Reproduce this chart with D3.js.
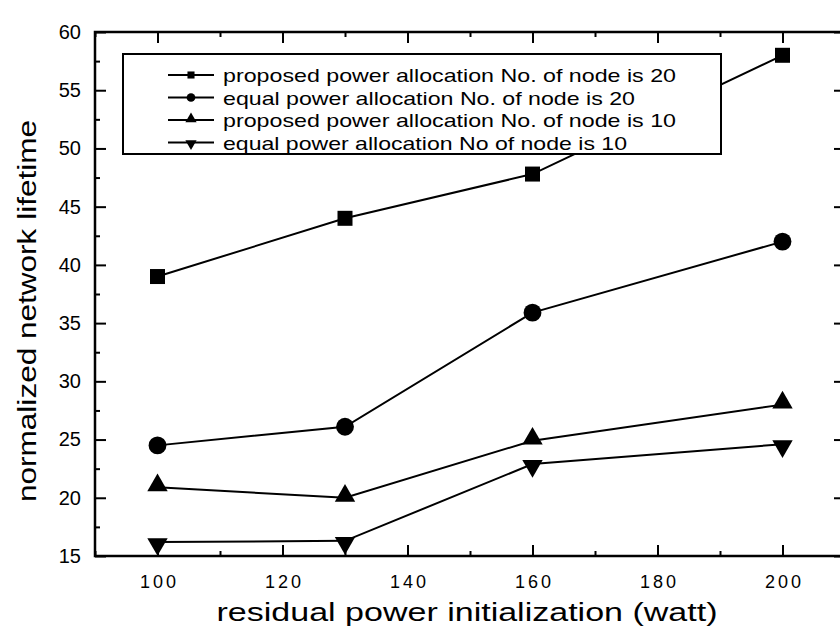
<!DOCTYPE html>
<html><head><meta charset="utf-8">
<script src="https://cdn.jsdelivr.net/npm/d3@7"></script>
<style>body{margin:0;background:#fff}svg{display:block}text{font-family:Arial,"Liberation Sans",sans-serif;fill:#000}</style>
</head><body><svg id="c" width="840" height="629"></svg>
<script>
const xValues = [100, 130, 160, 200];
const proposed20 = [39, 44, 47.8, 58];
const equal20 = [24.5, 26.1, 35.9, 42];
const proposed10 = [20.9, 20, 24.9, 28];
const equal10 = [16.2, 16.3, 22.9, 24.6];
const seriesNames = [
  "proposed power allocation No. of node is 20",
  "equal power allocation No. of node is 20",
  "proposed power allocation No. of node is 10",
  "equal power allocation No of node is 10"
];
const xTicks = [100, 120, 140, 160, 180, 200];
const yTicks = [15, 20, 25, 30, 35, 40, 45, 50, 55, 60];
const xTitle = "residual power initialization (watt)";
const yTitle = "normalized network lifetime";

const svg = d3.select("#c");
const L = 95, R = 845, T = 32, B = 556;
const x = d3.scaleLinear().domain([90, 210]).range([L, R]);
const y = d3.scaleLinear().domain([15, 60]).range([B, T]);

const series = [
  {v: proposed20, sym: d3.symbolSquare, size: 225, lsize: 50},
  {v: equal20, sym: d3.symbolCircle, size: 250, lsize: 60},
  {v: proposed10, sym: d3.symbolTriangle, size: 180, lsize: 55, dy: -2},
  {v: equal10, sym: d3.symbolTriangle, size: 180, lsize: 55, rot: 180, dy: 2}
];
const legendWidths = [453, 412, 453, 404];

// frame
svg.append("rect").attr("x", L).attr("y", T).attr("width", R - L).attr("height", B - T)
  .attr("fill", "none").attr("stroke", "#000").attr("stroke-width", 2.5);

const minorX = d3.range(90, 211, 10).filter(d => d % 20 !== 0);
const minorY = d3.range(17.5, 60, 5);

function ticks(g) { g.selectAll(".domain").remove(); g.selectAll("line").attr("stroke", "#000").attr("stroke-width", 2); }

svg.append("g").attr("transform", `translate(0,${B})`).call(d3.axisBottom(x).tickValues(xTicks).tickSize(-11).tickPadding(19).tickFormat(d3.format("d")))
  .call(ticks).selectAll("text").attr("font-size", 18).attr("font-family", "Arial")
  .attr("textLength", 36).attr("lengthAdjust", "spacing");
svg.append("g").attr("transform", `translate(0,${B})`).call(d3.axisBottom(x).tickValues(minorX).tickSize(-5).tickFormat(""))
  .call(ticks);
svg.append("g").attr("transform", `translate(0,${T})`).call(d3.axisTop(x).tickValues(xTicks).tickSize(-11).tickFormat(""))
  .call(ticks);
svg.append("g").attr("transform", `translate(0,${T})`).call(d3.axisTop(x).tickValues(minorX).tickSize(-5).tickFormat(""))
  .call(ticks);
svg.append("g").attr("transform", `translate(${L},0)`).call(d3.axisLeft(y).tickValues(yTicks).tickSize(-11).tickPadding(14).tickFormat(d3.format("d")))
  .call(ticks).selectAll("text").attr("font-size", 20).attr("font-family", "Arial");
svg.append("g").attr("transform", `translate(${L},0)`).call(d3.axisLeft(y).tickValues(minorY).tickSize(-5).tickFormat(""))
  .call(ticks);
svg.append("g").attr("transform", `translate(${R},0)`).call(d3.axisRight(y).tickValues(yTicks).tickSize(-11).tickFormat(""))
  .call(ticks);
svg.append("g").attr("transform", `translate(${R},0)`).call(d3.axisRight(y).tickValues(minorY).tickSize(-5).tickFormat(""))
  .call(ticks);

// lines and markers
const line = d3.line().x((d, i) => x(xValues[i])).y(d => y(d));
series.forEach(s => {
  svg.append("path").datum(s.v).attr("d", line).attr("fill", "none").attr("stroke", "#000").attr("stroke-width", 2);
  svg.selectAll(null).data(s.v).enter().append("path")
    .attr("d", d3.symbol().type(s.sym).size(s.size))
    .attr("transform", (d, i) => `translate(${x(xValues[i])},${y(d) + (s.dy || 0)}) rotate(${s.rot || 0})`)
    .attr("fill", "#000");
});

// legend
const lg = svg.append("g");
lg.append("rect").attr("x", 123).attr("y", 54).attr("width", 598).attr("height", 100)
  .attr("fill", "#fff").attr("stroke", "#000").attr("stroke-width", 2);
series.forEach((s, i) => {
  const yy = 75 + i * 22.5;
  lg.append("line").attr("x1", 168).attr("x2", 214).attr("y1", yy).attr("y2", yy).attr("stroke", "#000").attr("stroke-width", 2);
  lg.append("path").attr("d", d3.symbol().type(s.sym).size(s.lsize))
    .attr("transform", `translate(191,${yy + (s.dy ? s.dy / 2 : 0)}) rotate(${s.rot || 0})`).attr("fill", "#000");
  lg.append("text").attr("x", 223).attr("y", yy + 7).attr("font-size", 19)
    .attr("textLength", legendWidths[i]).attr("lengthAdjust", "spacingAndGlyphs").text(seriesNames[i]);
});

// titles
svg.append("text").attr("x", 467).attr("y", 621).attr("text-anchor", "middle").attr("font-size", 26)
  .attr("textLength", 501).attr("lengthAdjust", "spacingAndGlyphs").text(xTitle);
svg.append("text").attr("transform", `translate(36,311) rotate(-90)`).attr("text-anchor", "middle").attr("font-size", 26)
  .attr("textLength", 382).attr("lengthAdjust", "spacingAndGlyphs").text(yTitle);
</script></body></html>
